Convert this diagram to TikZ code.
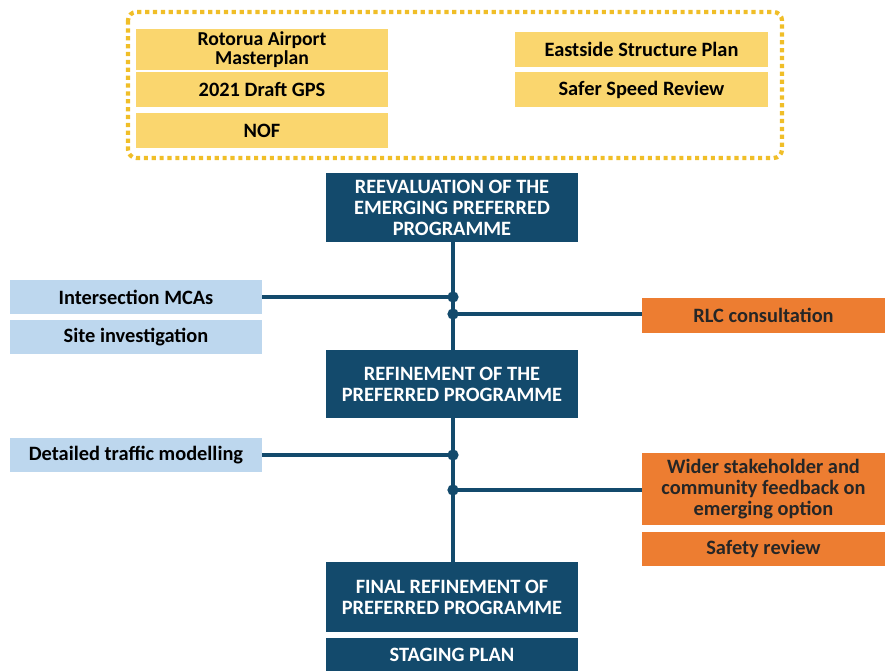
\documentclass[tikz,border=0pt]{standalone}
\usepackage{fontspec}
\setmainfont{Carlito}
\usepackage{tikz}
\usetikzlibrary{positioning}
\usetikzlibrary{calc}
\definecolor{navy}{RGB}{19,74,108}
\definecolor{sky}{RGB}{189,215,238}
\definecolor{tangerine}{RGB}{237,125,49}
\definecolor{straw}{RGB}{250,214,110}
\definecolor{gold}{RGB}{240,190,40}

\begin{document}
\begin{tikzpicture}[x=0.025cm, y=-0.025cm, font=\bfseries\fontsize{14.5}{15}\selectfont,
	stage/.style={fill=navy, text=white, align=center, minimum width=6.3cm, inner sep=2pt},
	input/.style={fill=straw, text=black, align=center, minimum width=6.3cm, minimum height=0.875cm, inner sep=2pt},
	study/.style={fill=sky, text=black, align=center, minimum width=6.3cm, minimum height=0.85cm, inner sep=2pt},
	consult/.style={fill=tangerine, text=black!85, align=center, minimum width=6.075cm, minimum height=0.85cm, inner sep=2pt},
	link/.style={draw=navy, line width=2.2pt},
	joint/.style={fill=navy, circle, inner sep=0pt, minimum size=8pt}]
		\useasboundingbox (0,0) rectangle (885,670);
		% strategic inputs
		\draw[gold, line width=3pt, dash pattern=on 3pt off 2.6pt, rounded corners=6pt] (128,12) rectangle (782,158);
		\node[input, font=\bfseries\fontsize{14}{13.5}\selectfont](rap) at (262, 49.5) {Rotorua Airport\\ Masterplan};
		\node[input](gps) at (262, 89.5) {2021 Draft GPS};
		\node[input](nof) at (262, 130.5) {NOF};
		\node[input](esp) at (641.5, 49.5) {Eastside Structure Plan};
		\node[input](ssr) at (641.5, 89.5) {Safer Speed Review};
		
		% programme stages
		\node[stage, minimum height=1.725cm](reeval) at (452, 207.5) {REEVALUATION OF THE\\ EMERGING PREFERRED\\ PROGRAMME};
		\node[stage, minimum height=1.7cm](refine) at (452, 384) {REFINEMENT OF THE\\ PREFERRED PROGRAMME};
		\node[stage, minimum height=1.75cm](final) at (452, 597) {FINAL REFINEMENT OF\\ PREFERRED PROGRAMME};
		\node[stage, minimum height=0.85cm](staging) at (452, 655) {STAGING PLAN};
		
		% technical work
		\node[study](mca) at (136, 297) {Intersection MCAs};
		\node[study](site) at (136, 337) {Site investigation};
		\node[study](traffic) at (136, 455) {Detailed traffic modelling};
		
		% engagement
		\node[consult](rlc) at (763.5, 315.5) {RLC consultation};
		\node[consult, minimum height=1.8cm](wider) at (763.5, 489) {Wider stakeholder and\\ community feedback on\\ emerging option};
		\node[consult](safety) at (763.5, 549) {Safety review};
		
		\coordinate (j1) at (453, 297);
		\coordinate (j2) at (453, 314);
		\coordinate (j3) at (453, 455);
		\coordinate (j4) at (453, 490);
		
		\draw[link] (reeval.south -| j1) -- (j1 |- refine.north);
		\draw[link] (refine.south -| j3) -- (j3 |- final.north);
		\draw[link] (mca.east) -- (j1);
		\draw[link] (j2) -- (j2 -| rlc.west);
		\draw[link] (traffic.east) -- (j3);
		\draw[link] (j4) -- (j4 -| wider.west);
		\foreach \j in {j1, j2, j3, j4}
			\node[joint] at (\j) {};
\end{tikzpicture}
\end{document}
